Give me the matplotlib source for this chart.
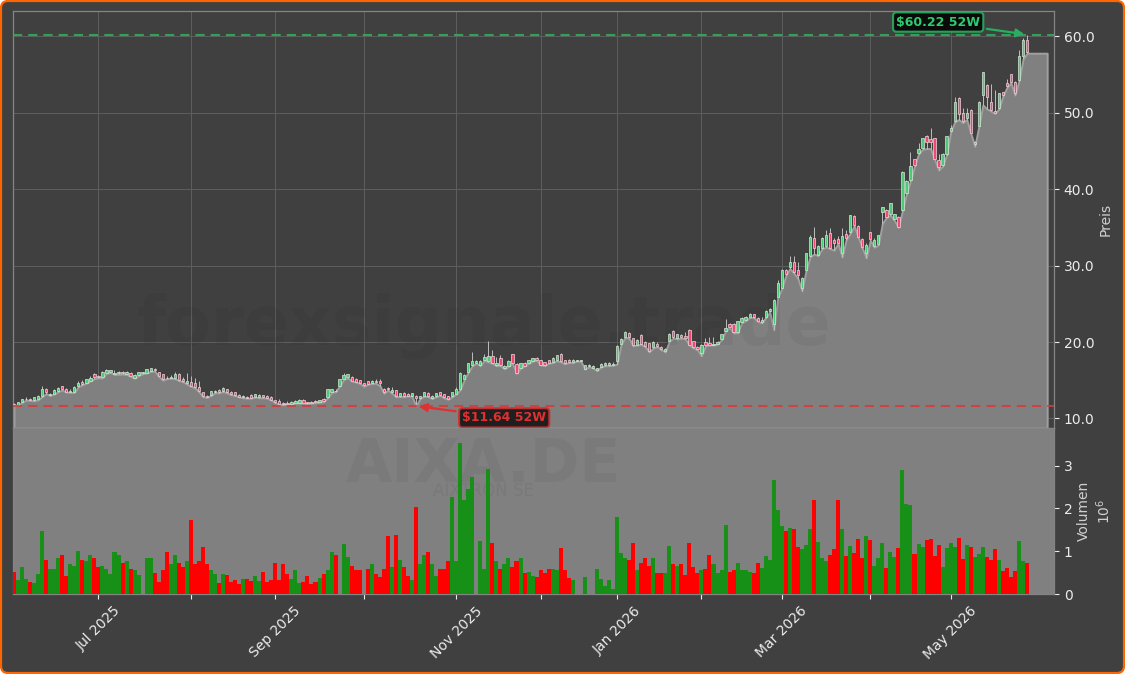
import matplotlib
matplotlib.use("Agg")
import matplotlib.pyplot as plt
import numpy as np
from matplotlib.patches import FancyBboxPatch
from matplotlib.transforms import IdentityTransform

# trading days (10 per line)
body_low = [
    11.8, 11.75, 12.15, 12.5, 12.45, 12.35, 12.5, 12.9, 13.4, 13.1,
    13.25, 13.65, 13.8, 13.5, 13.45, 13.5, 14.2, 14.5, 14.7, 14.9,
    15.4, 15.45, 15.4, 15.95, 16.1, 15.85, 15.95, 15.95, 15.8, 15.6,
    15.35, 15.7, 15.9, 16.0, 16.2, 16.3, 15.6, 15.1, 15.25, 15.35,
    15.3, 15.05, 14.9, 14.6, 14.3, 14.1, 13.65, 12.9, 12.85, 13.1,
    13.4, 13.4, 13.6, 13.45, 13.2, 13.1, 12.85, 12.75, 12.7, 12.7,
    12.85, 12.75, 12.75, 12.7, 12.45, 12.1, 11.9, 11.85, 11.9, 11.9,
    12.05, 12.05, 12.05, 12.0, 12.05, 12.1, 12.15, 12.25, 12.75, 13.45,
    13.55, 14.3, 15.15, 15.4, 14.95, 14.8, 14.7, 14.35, 14.5, 14.65,
    14.75, 14.7, 13.4, 13.8, 13.4, 12.9, 12.9, 12.9, 13.0, 13.0,
    12.7, 12.65, 12.95, 12.9, 12.65, 12.9, 13.1, 12.75, 12.55, 12.9,
    13.25, 13.8, 15.15, 16.1, 17.0, 17.25, 16.95, 17.7, 17.5, 17.3,
    17.0, 17.0, 16.6, 16.9, 17.3, 16.0, 16.65, 16.9, 17.25, 17.55,
    17.65, 17.05, 17.0, 17.25, 17.35, 17.6, 17.5, 17.2, 17.35, 17.35,
    17.55, 17.55, 16.5, 16.8, 16.65, 16.3, 16.75, 16.95, 16.95, 17.0,
    17.55, 19.75, 20.7, 20.6, 19.6, 19.65, 19.8, 19.5, 18.8, 19.3,
    19.5, 19.1, 18.8, 20.15, 20.6, 20.5, 20.6, 20.5, 19.65, 19.3,
    19.1, 18.5, 19.6, 19.65, 19.65, 19.8, 20.4, 21.5, 22.0, 21.25,
    21.25, 22.6, 22.9, 23.25, 23.3, 22.8, 22.65, 23.25, 24.0, 22.35,
    25.95, 27.1, 28.85, 29.75, 29.1, 28.8, 27.0, 29.45, 31.2, 32.3,
    31.4, 32.3, 32.5, 32.3, 33.0, 33.0, 31.6, 33.55, 34.35, 35.3,
    33.8, 32.4, 31.6, 33.5, 32.55, 32.85, 37.0, 36.4, 36.7, 36.05,
    35.1, 37.3, 39.55, 41.2, 43.15, 44.7, 45.35, 46.2, 46.2, 44.0,
    42.95, 43.15, 44.55, 47.6, 48.85, 49.85, 48.85, 49.25, 47.4, 45.9,
    48.3, 52.25, 52.0, 50.35, 50.0, 50.65, 52.3, 53.5, 54.05, 52.55,
    54.3, 57.35, 58.0,
]
body_high = [
    11.9, 12.1, 12.5, 12.6, 12.55, 12.75, 13.0, 13.9, 13.9, 13.2,
    13.75, 14.0, 14.2, 13.85, 13.55, 14.1, 14.6, 14.8, 15.1, 15.3,
    15.85, 15.55, 16.1, 16.4, 16.3, 15.95, 16.05, 16.05, 16.1, 16.0,
    15.7, 16.05, 16.05, 16.45, 16.6, 16.5, 16.05, 15.75, 15.35, 15.45,
    15.8, 15.85, 15.2, 14.9, 14.75, 14.6, 14.1, 13.45, 13.0, 13.55,
    13.65, 13.75, 13.95, 13.8, 13.5, 13.4, 13.1, 12.95, 12.85, 13.05,
    13.15, 13.1, 13.05, 12.95, 12.8, 12.4, 12.25, 12.05, 12.05, 12.1,
    12.3, 12.4, 12.35, 12.15, 12.2, 12.25, 12.35, 12.6, 13.8, 13.8,
    13.65, 15.1, 15.7, 15.75, 15.4, 15.2, 15.0, 14.65, 14.9, 14.9,
    14.85, 14.9, 13.9, 14.0, 13.7, 13.7, 13.3, 13.3, 13.25, 13.3,
    13.0, 12.95, 13.4, 13.35, 12.95, 13.3, 13.4, 13.15, 12.95, 13.4,
    13.9, 16.0, 15.7, 17.2, 17.55, 17.45, 17.55, 18.1, 18.2, 18.2,
    17.3, 17.95, 16.9, 17.45, 18.4, 17.1, 17.2, 17.3, 17.6, 17.85,
    17.95, 17.6, 17.35, 17.6, 17.95, 18.25, 18.4, 17.6, 17.65, 17.65,
    17.65, 17.65, 17.0, 17.0, 16.9, 16.55, 17.1, 17.2, 17.2, 17.15,
    19.5, 20.4, 21.35, 21.2, 20.5, 20.25, 20.9, 19.95, 19.85, 20.05,
    19.8, 19.4, 19.1, 21.05, 21.45, 21.05, 20.9, 20.85, 21.6, 20.1,
    19.4, 19.6, 20.0, 19.9, 19.8, 20.0, 21.0, 21.85, 22.4, 22.4,
    22.75, 23.15, 23.3, 23.7, 23.65, 23.2, 22.9, 24.1, 24.3, 25.5,
    27.7, 29.45, 29.45, 30.45, 30.45, 29.45, 28.35, 31.6, 33.8, 33.6,
    32.5, 33.6, 34.0, 34.2, 33.35, 33.45, 33.9, 34.1, 36.6, 36.5,
    35.2, 33.45, 32.7, 34.35, 33.35, 33.95, 37.6, 37.3, 38.15, 36.7,
    36.4, 42.3, 41.05, 43.0, 43.9, 45.3, 46.65, 46.95, 46.6, 46.65,
    43.8, 44.6, 46.95, 48.05, 51.45, 51.9, 49.95, 49.95, 50.4, 46.2,
    51.45, 55.3, 53.6, 51.45, 50.25, 52.55, 52.65, 53.85, 55.1, 54.05,
    57.35, 59.5, 59.5,
]
highs = [
    12.05, 12.2, 12.55, 12.8, 12.7, 12.8, 13.1, 14.3, 14.0, 13.3,
    13.8, 14.1, 14.25, 13.95, 13.9, 14.2, 14.9, 15.0, 15.2, 15.6,
    15.9, 15.7, 16.15, 16.5, 16.35, 16.3, 16.2, 16.25, 16.2, 16.05,
    15.8, 16.1, 16.1, 16.5, 16.65, 16.55, 16.1, 15.8, 15.6, 15.7,
    16.1, 16.0, 15.4, 16.0, 15.5, 15.3, 14.9, 13.5, 13.1, 13.6,
    13.7, 13.8, 14.05, 13.85, 13.55, 13.45, 13.2, 13.1, 13.0, 13.15,
    13.2, 13.2, 13.1, 13.1, 12.9, 12.45, 12.5, 12.15, 12.3, 12.3,
    12.4, 12.5, 12.55, 12.2, 12.3, 12.35, 12.4, 12.7, 13.85, 13.9,
    13.8, 15.2, 15.9, 15.8, 15.5, 15.25, 15.05, 14.7, 14.95, 15.0,
    15.1, 15.2, 14.0, 14.1, 14.1, 13.75, 13.35, 13.4, 13.35, 13.35,
    13.1, 13.0, 13.45, 13.4, 13.05, 13.35, 13.5, 13.2, 13.0, 13.45,
    14.1, 16.1, 15.8, 17.3, 18.75, 17.6, 17.7, 18.4, 20.07, 18.9,
    18.1, 18.3, 17.0, 17.7, 18.45, 17.2, 17.25, 17.4, 17.7, 17.95,
    18.1, 17.65, 17.4, 17.7, 18.1, 18.3, 18.5, 17.7, 17.8, 17.75,
    17.7, 17.7, 17.05, 17.1, 17.0, 16.6, 17.2, 17.4, 17.4, 17.4,
    19.55, 20.5, 21.4, 21.3, 20.55, 20.4, 21.05, 20.1, 19.9, 20.1,
    20.0, 19.5, 19.15, 21.15, 21.6, 21.1, 21.0, 21.3, 21.65, 20.15,
    19.5, 19.7, 20.5, 20.7, 20.6, 20.1, 21.1, 23.0, 22.5, 22.45,
    22.8, 23.3, 23.4, 23.75, 23.7, 23.3, 23.3, 24.15, 24.45, 25.6,
    28.1, 29.5, 29.5, 31.2, 31.2, 30.45, 28.5, 31.7, 34.0, 35.0,
    32.7, 33.8, 34.7, 34.9, 33.6, 33.9, 34.9, 34.6, 36.65, 36.55,
    35.3, 33.6, 32.9, 34.4, 33.6, 34.0, 37.65, 37.4, 38.2, 36.8,
    36.5, 42.4, 41.2, 44.8, 44.0, 46.0, 46.75, 47.1, 48.0, 46.7,
    44.6, 44.7, 47.0, 48.4, 52.0, 52.0, 50.6, 50.6, 50.5, 46.3,
    51.5, 55.35, 53.7, 53.7, 53.0, 52.6, 52.7, 54.4, 55.1, 54.2,
    58.2, 59.8, 60.22,
]
lows = [
    11.75, 11.7, 12.1, 12.4, 12.35, 12.3, 12.45, 12.85, 13.25, 13.0,
    13.2, 13.5, 13.7, 13.45, 13.4, 13.4, 14.15, 14.4, 14.6, 14.9,
    15.2, 15.3, 15.3, 15.9, 16.0, 15.75, 15.75, 15.8, 15.75, 15.5,
    15.25, 15.6, 15.85, 15.95, 16.15, 16.2, 15.5, 15.0, 15.2, 15.25,
    15.2, 14.95, 14.8, 14.5, 14.2, 14.0, 13.5, 12.85, 12.75, 13.0,
    13.35, 13.35, 13.5, 13.35, 13.1, 13.0, 12.8, 12.7, 12.65, 12.65,
    12.8, 12.7, 12.7, 12.65, 12.4, 12.05, 11.85, 11.8, 11.85, 11.85,
    12.0, 12.0, 12.0, 11.95, 12.0, 12.05, 12.1, 12.2, 12.7, 13.4,
    13.5, 14.25, 15.1, 15.3, 14.9, 14.75, 14.6, 14.2, 14.45, 14.55,
    14.6, 14.3, 13.3, 13.7, 13.3, 12.85, 12.85, 12.85, 12.95, 12.9,
    11.64, 12.6, 12.9, 12.85, 12.6, 12.85, 13.0, 12.7, 12.5, 12.85,
    13.2, 13.75, 15.1, 16.05, 16.9, 17.2, 16.9, 17.6, 17.4, 17.2,
    16.9, 16.9, 16.5, 16.8, 17.2, 15.9, 16.6, 16.85, 17.2, 17.5,
    17.6, 17.0, 16.9, 17.2, 17.3, 17.55, 17.4, 17.15, 17.3, 17.3,
    17.5, 17.5, 16.45, 16.75, 16.6, 16.25, 16.7, 16.9, 16.9, 16.95,
    17.1, 19.7, 20.6, 20.5, 19.5, 19.6, 19.7, 19.4, 18.7, 19.2,
    19.4, 19.0, 18.7, 20.1, 20.5, 20.4, 20.5, 20.4, 19.6, 19.2,
    19.0, 18.2, 19.5, 19.6, 19.6, 19.7, 20.3, 21.4, 21.9, 21.2,
    21.2, 22.5, 22.8, 23.2, 23.2, 22.7, 22.5, 23.2, 23.9, 21.6,
    25.85, 27.0, 28.7, 29.6, 29.0, 28.3, 26.7, 29.3, 31.1, 31.5,
    31.3, 32.2, 32.4, 32.2, 32.0, 32.9, 31.1, 33.4, 34.2, 35.2,
    33.7, 32.3, 31.0, 33.3, 32.4, 32.7, 35.5, 36.3, 36.6, 35.9,
    35.0, 37.2, 39.4, 41.1, 43.0, 44.6, 45.2, 45.3, 45.3, 43.9,
    42.5, 43.0, 44.5, 47.5, 48.8, 49.1, 48.7, 49.1, 47.3, 45.6,
    48.2, 51.0, 50.5, 50.2, 49.9, 50.5, 52.2, 53.3, 53.9, 52.3,
    54.2, 57.0, 57.78,
]
is_up = [
    0, 1, 1, 1, 0, 1, 1, 1, 0, 1,
    1, 1, 0, 0, 1, 1, 1, 0, 1, 1,
    0, 0, 1, 1, 1, 1, 1, 0, 1, 0,
    1, 1, 1, 1, 1, 0, 0, 0, 0, 1,
    1, 0, 0, 1, 0, 0, 0, 0, 0, 1,
    1, 0, 1, 0, 0, 0, 0, 1, 0, 0,
    1, 1, 0, 0, 0, 0, 0, 0, 0, 1,
    1, 1, 0, 0, 0, 0, 1, 0, 1, 1,
    0, 1, 1, 1, 0, 0, 0, 0, 0, 1,
    0, 0, 0, 0, 1, 0, 1, 0, 0, 1,
    0, 1, 1, 0, 1, 1, 0, 0, 0, 1,
    1, 1, 1, 1, 1, 1, 1, 1, 1, 0,
    1, 0, 1, 1, 0, 0, 1, 0, 1, 1,
    0, 0, 0, 0, 1, 1, 0, 0, 0, 1,
    1, 1, 1, 1, 1, 1, 1, 1, 1, 1,
    1, 1, 1, 0, 0, 1, 0, 0, 0, 1,
    0, 0, 1, 1, 0, 1, 0, 0, 0, 0,
    0, 1, 0, 0, 1, 1, 1, 1, 0, 0,
    1, 1, 1, 1, 0, 0, 1, 1, 1, 1,
    1, 1, 0, 1, 0, 0, 1, 1, 1, 0,
    1, 1, 1, 0, 0, 0, 1, 0, 1, 0,
    0, 0, 1, 0, 1, 1, 1, 0, 1, 1,
    0, 1, 1, 1, 0, 1, 1, 0, 0, 0,
    0, 1, 1, 1, 1, 0, 0, 1, 0, 1,
    1, 1, 0, 0, 0, 1, 0, 0, 0, 0,
    1, 1, 0,
]
volumes = [
    .51, .32, .64, .36, .29, .26, .47, 1.48, .80, .59,
    .59, .83, .92, .43, .71, .66, 1.01, .80, .78, .90,
    .83, .64, .66, .59, .47, .99, .92, .73, .76, .59,
    .57, .45, 0, .85, .85, .50, .29, .55, .99, .71,
    .90, .73, .62, .78, 1.74, .71, .78, 1.11, .69, .57,
    .47, .26, .47, .45, .29, .33, .24, .36, .36, .31,
    .43, .31, .52, .29, .33, .73, .33, .69, .47, .36,
    .55, .26, .29, .43, .24, .29, .38, .47, .55, .99,
    .92, 0, 1.18, .87, .66, .55, .55, 0, .59, .69,
    .47, .40, .59, 1.36, .62, 1.39, .80, .62, .43, .33,
    2.04, .71, .92, .99, .69, .43, .59, .59, .78, 2.27,
    .76, 3.54, 2.20, 2.46, 2.74, 0, 1.25, .59, 2.93, 1.20,
    .78, .59, .69, .83, .64, .76, .85, .48, .52, .43,
    .40, .57, .48, .59, .59, .55, 1.08, .55, .38, .33,
    0, 0, .40, 0, 0, .59, .36, .19, .33, .12,
    1.81, .97, .83, .80, 1.20, .57, .73, .83, .66, .85,
    .50, .50, .50, 1.13, .69, .66, .71, .45, 1.20, .62,
    .50, .57, .59, .90, .69, .48, .57, 1.62, .52, .57,
    .73, .55, .57, .52, .49, .72, .61, .89, .79, 2.66,
    1.96, 1.59, 1.47, 1.54, 1.52, 1.10, 1.05, 1.14, 1.52, 2.20,
    1.21, .84, .77, .91, 1.05, 2.20, 1.52, .89, 1.12, .96,
    1.29, .84, 1.36, 1.26, .65, .84, 1.19, .61, .98, .86,
    1.07, 2.90, 2.10, 2.08, .93, 1.17, 1.10, 1.26, 1.29, .89,
    1.14, .63, 1.07, 1.19, 1.10, 1.31, .82, 1.14, 1.10, .86,
    .93, 1.10, .86, .79, 1.05, .79, .54, .61, .40, .54,
    1.24, .77, .72,
]
month_ticks = [21, 44, 65, 87, 110, 131, 150, 171, 191, 213, 233]
month_labels = ["Jul 2025", "", "Sep 2025", "", "Nov 2025", "", "Jan 2026", "",
                "Mar 2026", "", "May 2026"]
price_ticks = [10, 20, 30, 40, 50, 60]
vol_ticks = [0, 1, 2, 3]
high_52w = 60.22
low_52w = 11.64

W, H = 1125, 674
BG = "#404040"
PANEL = "#808080"
DASHES = (0, (4.4, 2.9))

x = np.arange(len(lows))
up = np.array(is_up, dtype=bool)
body_low = np.array(body_low)
body_high = np.array(body_high)

fig = plt.figure(figsize=(W / 100, H / 100), dpi=100, facecolor="white")
fig.add_artist(FancyBboxPatch((1, 1), W - 2, H - 2,
                              boxstyle="round,pad=0,rounding_size=7",
                              fc=BG, ec="#ff6600", lw=1.6,
                              transform=IdentityTransform(), zorder=-5))

left, right = 12.5 / W, 1054 / W
ax = fig.add_axes([left, (H - 428) / H, right - left, (428 - 11) / H])
vax = fig.add_axes([left, (H - 594) / H, right - left, (594 - 428) / H], sharex=ax)

# price panel
ax.set_facecolor(BG)
ax.grid(True, color="#5e5e5e", lw=0.7)
ax.set_axisbelow(True)
fill_x = np.append(x, x[-1] + 5)
fill_y = np.append(lows, lows[-1])
ax.fill_between(fill_x, fill_y, 8.75, facecolor=PANEL, edgecolor="#a0a0a0", lw=1.4, zorder=2)
ax.text(0.4525, 0.245, "forexsignale.trade", transform=ax.transAxes, ha="center", va="center",
        fontsize=48, fontweight="bold", color="black", alpha=0.045, zorder=2.5)

ax.vlines(x, lows, highs, color="#bdbdbd", lw=0.7, zorder=3)
ax.bar(x[up], (body_high - body_low)[up], bottom=body_low[up], width=0.58,
       color="#4fc878", edgecolor="#d8e8d8", lw=0.5, zorder=4)
ax.bar(x[~up], (body_high - body_low)[~up], bottom=body_low[~up], width=0.58,
       color="#ee4a74", edgecolor="#eed8de", lw=0.5, zorder=4)

ax.axhline(high_52w, color="#2fb35a", ls=DASHES, lw=1.5, alpha=0.85, zorder=5)
ax.axhline(low_52w, color="#d83a3a", ls=DASHES, lw=1.5, alpha=0.85, zorder=5)

i_high = int(np.argmax(highs))
i_low = int(np.argmin(lows))
ax.annotate(f"${high_52w:.2f} 52W", xy=(i_high, high_52w), xytext=(-64, 9),
            textcoords="offset points", ha="center", va="center",
            fontsize=9, fontweight="bold", color="#2ecc71", zorder=7,
            bbox=dict(boxstyle="round,pad=0.25", fc="#050505", ec="#27ae60", lw=1.5, alpha=0.9),
            arrowprops=dict(arrowstyle="-|>", color="#27ae60", lw=1.6, mutation_scale=12))
ax.annotate(f"${low_52w:.2f} 52W", xy=(i_low, low_52w), xytext=(63.5, -8.6),
            textcoords="offset points", ha="center", va="center",
            fontsize=9, fontweight="bold", color="#e03030", zorder=7,
            bbox=dict(boxstyle="round,pad=0.25", fc="#151515", ec="#d03030", lw=1.5, alpha=0.9),
            arrowprops=dict(arrowstyle="-|>", color="#e03030", lw=1.6, mutation_scale=12))

ax.set_xlim(-0.37, 258.7)
ax.set_ylim(8.75, 63.3)
ax.set_yticks(price_ticks)
ax.set_yticklabels([f"{p:.1f}" for p in price_ticks])
ax.yaxis.tick_right()
ax.yaxis.set_label_position("right")
ax.set_ylabel("Preis", color="#d0d0d0", labelpad=3)
ax.tick_params(axis="x", bottom=False, labelbottom=False)
ax.tick_params(axis="y", colors="#ececec", labelsize=10)

# volume panel
vax.set_facecolor(PANEL)
vax.bar(x, volumes, width=1.0, color=np.where(up, "#179017", "#ff0000"), zorder=3)
vax.text(0.4525, 0.775, "AIXA.DE", transform=vax.transAxes, ha="center", va="center",
         fontsize=43, fontweight="bold", color="black", alpha=0.045, zorder=2)
vax.text(0.4525, 0.62, "AIXTRON SE", transform=vax.transAxes, ha="center", va="center",
         fontsize=12, color="black", alpha=0.05, zorder=2)
vax.set_ylim(0, 3.88)
vax.set_yticks(vol_ticks)
vax.yaxis.tick_right()
vax.yaxis.set_label_position("right")
vax.set_ylabel("Volumen\n$10^6$", color="#d0d0d0", labelpad=3, linespacing=1.25)
vax.set_xticks(month_ticks)
vax.set_xticklabels(month_labels, rotation=45, ha="center")
vax.tick_params(axis="both", colors="#ececec", labelsize=10)

for a in (ax, vax):
    for s in a.spines.values():
        s.set_color("#858585")
        s.set_linewidth(0.9)

fig.savefig("out.png", dpi=100, facecolor="white")
